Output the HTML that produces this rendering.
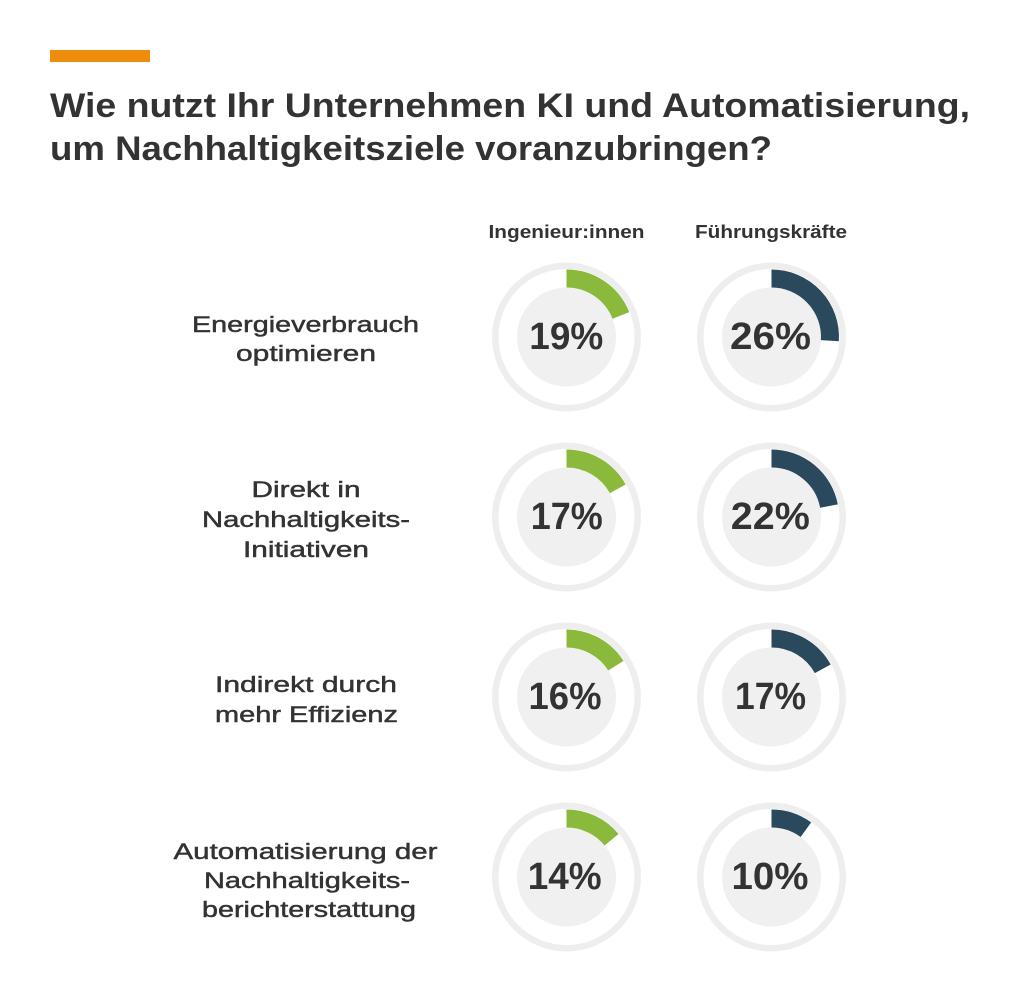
<!DOCTYPE html>
<html>
<head>
<meta charset="utf-8">
<style>
  html, body { margin:0; padding:0; background:#ffffff; }
  body { width:1024px; height:1007px; overflow:hidden; }
  svg { display:block; }
  .t { font-family:"Liberation Sans", Arial, sans-serif; fill:#333333; }
  .l { stroke:#333333; stroke-width:0.45; }
</style>
</head>
<body>
<svg width="1024" height="1007" viewBox="0 0 1024 1007" xmlns="http://www.w3.org/2000/svg">
  <rect x="0" y="0" width="1024" height="1007" fill="#ffffff"/>
  <!-- orange accent bar -->
  <rect x="50" y="50" width="100" height="12" fill="#EF8C0B"/>

  <!-- title -->
  <text class="t" x="50" y="117" font-size="34" font-weight="bold" textLength="920" lengthAdjust="spacingAndGlyphs">Wie nutzt Ihr Unternehmen KI und Automatisierung,</text>
  <text class="t" x="50" y="160" font-size="34" font-weight="bold" textLength="722" lengthAdjust="spacingAndGlyphs">um Nachhaltigkeitsziele voranzubringen?</text>

  <!-- column headers -->
  <text class="t" x="566.5" y="238" font-size="18" font-weight="bold" text-anchor="middle" textLength="156" lengthAdjust="spacingAndGlyphs">Ingenieur:innen</text>
  <text class="t" x="771" y="238" font-size="18" font-weight="bold" text-anchor="middle" textLength="152" lengthAdjust="spacingAndGlyphs">Führungskräfte</text>

  <!-- row labels -->
  <g font-size="22">
    <text class="t l" x="305.5" y="332" text-anchor="middle" textLength="227" lengthAdjust="spacingAndGlyphs">Energieverbrauch</text>
    <text class="t l" x="306" y="361" text-anchor="middle" textLength="140" lengthAdjust="spacingAndGlyphs">optimieren</text>

    <text class="t l" x="306" y="497" text-anchor="middle" textLength="109" lengthAdjust="spacingAndGlyphs">Direkt in</text>
    <text class="t l" x="306" y="527" text-anchor="middle" textLength="208" lengthAdjust="spacingAndGlyphs">Nachhaltigkeits-</text>
    <text class="t l" x="306" y="557" text-anchor="middle" textLength="126" lengthAdjust="spacingAndGlyphs">Initiativen</text>

    <text class="t l" x="306" y="692" text-anchor="middle" textLength="182" lengthAdjust="spacingAndGlyphs">Indirekt durch</text>
    <text class="t l" x="306.5" y="722" text-anchor="middle" textLength="183" lengthAdjust="spacingAndGlyphs">mehr Effizienz</text>

    <text class="t l" x="305.5" y="859" text-anchor="middle" textLength="264" lengthAdjust="spacingAndGlyphs">Automatisierung der</text>
    <text class="t l" x="307" y="888" text-anchor="middle" textLength="206" lengthAdjust="spacingAndGlyphs">Nachhaltigkeits-</text>
    <text class="t l" x="309" y="917" text-anchor="middle" textLength="214" lengthAdjust="spacingAndGlyphs">berichterstattung</text>
  </g>

  <!-- donuts: outer ring + inner disk -->
  <g fill="none" stroke="#EEEEEE" stroke-width="6.5">
    <circle cx="566.5" cy="337" r="71.25"/>
    <circle cx="771.5" cy="337" r="71.25"/>
    <circle cx="566.5" cy="517" r="71.25"/>
    <circle cx="771.5" cy="517" r="71.25"/>
    <circle cx="566.5" cy="697" r="71.25"/>
    <circle cx="771.5" cy="697" r="71.25"/>
    <circle cx="566.5" cy="877" r="71.25"/>
    <circle cx="771.5" cy="877" r="71.25"/>
  </g>
  <g fill="#F0F0F0">
    <circle cx="566.5" cy="337" r="49.5"/>
    <circle cx="771.5" cy="337" r="49.5"/>
    <circle cx="566.5" cy="517" r="49.5"/>
    <circle cx="771.5" cy="517" r="49.5"/>
    <circle cx="566.5" cy="697" r="49.5"/>
    <circle cx="771.5" cy="697" r="49.5"/>
    <circle cx="566.5" cy="877" r="49.5"/>
    <circle cx="771.5" cy="877" r="49.5"/>
  </g>

  <!-- arcs -->
  <g fill="none" stroke-width="18" stroke-linecap="butt">
    <path d="M566.5 278.5 A58.5 58.5 0 0 1 620.89 315.47" stroke="#8BB93B"/>
    <path d="M771.5 278.5 A58.5 58.5 0 0 1 829.88 340.67" stroke="#2B495C"/>
    <path d="M566.5 458.5 A58.5 58.5 0 0 1 617.76 488.82" stroke="#8BB93B"/>
    <path d="M771.5 458.5 A58.5 58.5 0 0 1 828.96 506.04" stroke="#2B495C"/>
    <path d="M566.5 638.5 A58.5 58.5 0 0 1 615.89 665.65" stroke="#8BB93B"/>
    <path d="M771.5 638.5 A58.5 58.5 0 0 1 822.76 668.82" stroke="#2B495C"/>
    <path d="M566.5 818.5 A58.5 58.5 0 0 1 611.57 839.71" stroke="#8BB93B"/>
    <path d="M771.5 818.5 A58.5 58.5 0 0 1 805.89 829.67" stroke="#2B495C"/>
  </g>

  <!-- percentages -->
  <g font-size="38" font-weight="bold">
    <text class="t" x="566.3" y="349" text-anchor="middle" textLength="74" lengthAdjust="spacingAndGlyphs">19%</text>
    <text class="t" x="770.5" y="349" text-anchor="middle" textLength="81" lengthAdjust="spacingAndGlyphs">26%</text>
    <text class="t" x="566.7" y="529" text-anchor="middle" textLength="72" lengthAdjust="spacingAndGlyphs">17%</text>
    <text class="t" x="770.3" y="529" text-anchor="middle" textLength="79" lengthAdjust="spacingAndGlyphs">22%</text>
    <text class="t" x="565" y="709" text-anchor="middle" textLength="73" lengthAdjust="spacingAndGlyphs">16%</text>
    <text class="t" x="770.5" y="709" text-anchor="middle" textLength="71" lengthAdjust="spacingAndGlyphs">17%</text>
    <text class="t" x="564.7" y="889" text-anchor="middle" textLength="74" lengthAdjust="spacingAndGlyphs">14%</text>
    <text class="t" x="770" y="889" text-anchor="middle" textLength="77" lengthAdjust="spacingAndGlyphs">10%</text>
  </g>
</svg>
</body>
</html>
